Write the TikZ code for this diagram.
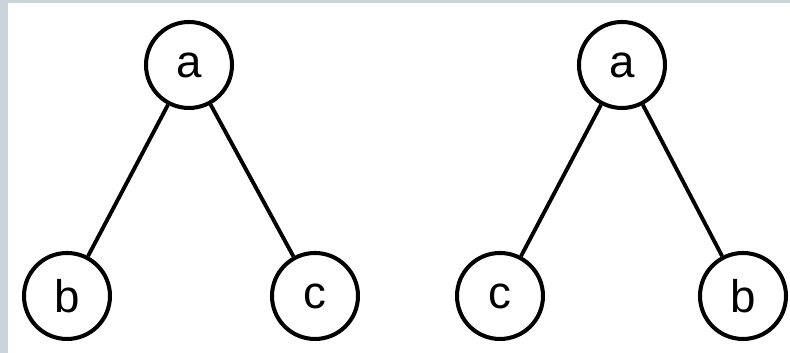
\documentclass[tikz,border=0pt]{standalone}
\usepackage{fontspec}
\setmainfont{Liberation Sans}
\definecolor{framegray}{HTML}{C9D4DB}
\begin{document}
\begin{tikzpicture}[every node/.style={font=\fontsize{13}{15}\selectfont},
  tnode/.style={circle, draw, line width=1.15pt, minimum size=0.86cm, inner sep=0pt},
  edge/.style={line width=1.1pt}]
\useasboundingbox (0,0) rectangle (7.9,3.53);
\fill[framegray] (0,0) rectangle (0.08,3.53);
\fill[framegray] (0,3.50) rectangle (7.9,3.53);
% left tree
\node[tnode] (a1) at (1.89,2.88) {a};
\node[tnode] (b1) at (0.67,0.57) {b};
\node[tnode] (c1) at (3.15,0.57) {c};
\draw[edge] (a1)--(b1);
\draw[edge] (a1)--(c1);
% right tree
\node[tnode] (a2) at (6.22,2.88) {a};
\node[tnode] (c2) at (5.00,0.57) {c};
\node[tnode] (b2) at (7.43,0.57) {b};
\draw[edge] (a2)--(c2);
\draw[edge] (a2)--(b2);
\end{tikzpicture}
\end{document}
